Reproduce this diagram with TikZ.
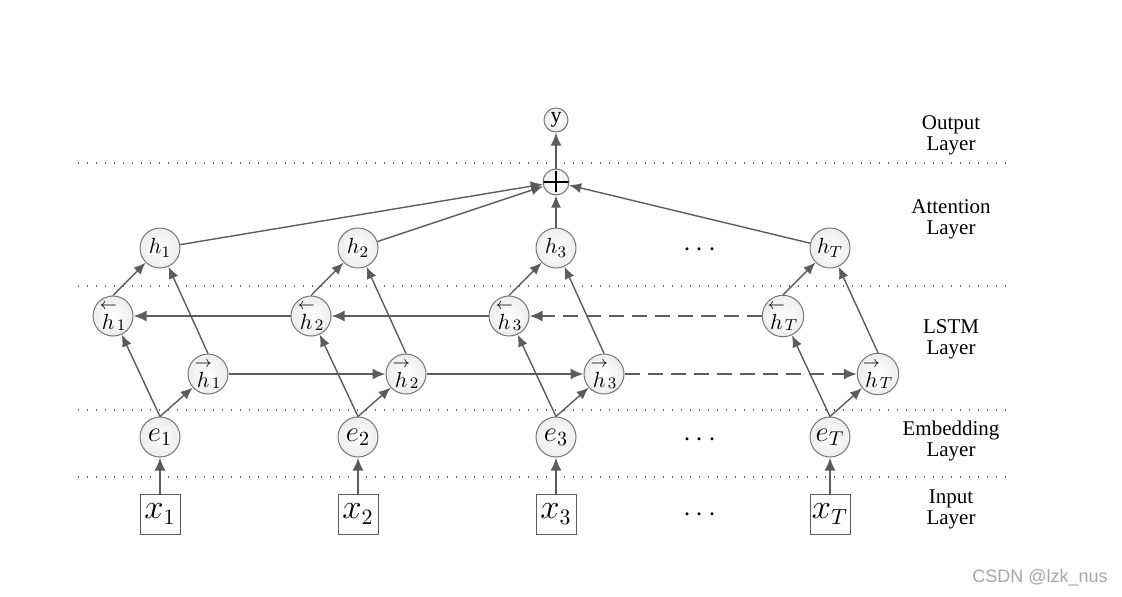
\documentclass[tikz,border=0pt]{standalone}
\usepackage{fontspec}
\setmainfont{Liberation Serif}
\newfontfamily\marksans{Liberation Sans}
\usetikzlibrary{arrows.meta}

\definecolor{linegray}{HTML}{5C5C5C}
\definecolor{rimgray}{HTML}{767676}

\tikzset{
    unit/.style={circle, draw=rimgray, line width=0.5pt, inner color=white, outer color=gray!14,
        minimum size=20pt, inner sep=0pt, font=\fontsize{11}{12}\selectfont},
    embunit/.style={unit, font=\fontsize{14}{15}\selectfont},
    inbox/.style={draw=linegray, line width=0.5pt, fill=white, minimum size=20pt, inner sep=0pt,
        font=\fontsize{16}{17}\selectfont},
    sumnode/.style={circle, draw=rimgray, line width=0.5pt, inner color=white, outer color=gray!14,
        minimum size=13pt, inner sep=0pt,
        path picture={\draw[black, line width=0.6pt]
            ([yshift=-1pt]path picture bounding box.north) -- ([yshift=1.5pt]path picture bounding box.south)
            (path picture bounding box.west) -- (path picture bounding box.east);}},
    link/.style={draw=linegray, line width=0.7pt, -{Latex[length=6pt,width=5pt]}},
    flow/.style={draw=linegray, line width=1pt, -{Latex[length=6.5pt,width=5.5pt]}},
    flowdash/.style={flow, dash pattern=on 7.5pt off 4pt},
    sepline/.style={draw=gray!80!black, line width=0.7pt, dash pattern=on 0.7pt off 3.8pt},
    layertext/.style={align=center, font=\fontsize{10.5}{10.5}\selectfont},
    dotstext/.style={font=\fontsize{14}{15}\selectfont},
    wmtext/.style={text=gray!70, font=\marksans\fontsize{9}{10}\selectfont}
}

\begin{document}
\begin{tikzpicture}[x=0.5pt, y=-0.5pt]
    \useasboundingbox (0,0) rectangle (1122,596);

    % Layer separators (dotted)
    \foreach \ly in {163,286,410,477} {
        \draw[sepline] (78,\ly) -- (1012,\ly);
    }

    % Columns of units
    \foreach \i/\cx in {1/160,2/358,3/556,T/830} {
        \node[inbox] (x\i) at (\cx,514) {$x_{\i}$};
        \node[embunit] (e\i) at (\cx,437) {$e_{\i}$};
        \node[unit] (fh\i) at (\cx+48,374) {${\stackrel{\rightarrow}{h}}_{\i}$};
        \node[unit] (bh\i) at (\cx-47,316) {${\stackrel{\leftarrow}{h}}_{\i}$};
        \node[unit] (h\i) at (\cx,248) {$h_{\i}$};
    }

    % Attention and output
    \node[sumnode] (sum) at (556,182) {};
    \node[unit, minimum size=12pt] (y) at (556,120) {y};

    % Dots between columns
    \node[dotstext] (dotsh) at (700,250) {$\cdots$};
    \node[dotstext] (dotse) at (700,440) {$\cdots$};
    \node[dotstext] (dotsx) at (700,515) {$\cdots$};

    % Layer names
    \node[layertext] (lout) at (951,135) {Output\\Layer};
    \node[layertext] (latt) at (951,219) {Attention\\Layer};
    \node[layertext] (llstm) at (951,339) {LSTM\\Layer};
    \node[layertext] (lemb) at (951,441) {Embedding\\Layer};
    \node[layertext] (lin) at (951,509) {Input\\Layer};

    % Connections inside each column
    \foreach \i in {1,2,3,T} {
        \draw[flow] (x\i) -- (e\i);
        \draw[link] (e\i.north) -- (bh\i);
        \draw[link] (e\i.north) -- (fh\i);
        \draw[link] (bh\i.north) -- (h\i);
        \draw[link] (fh\i.north) -- (h\i);
        \draw[link] (h\i) -- (sum);
    }

    % Recurrent connections
    \draw[flow] (fh1) -- (fh2);
    \draw[flow] (fh2) -- (fh3);
    \draw[flowdash] (fh3) -- (fhT);
    \draw[flow] (bh2) -- (bh1);
    \draw[flow] (bh3) -- (bh2);
    \draw[flowdash] (bhT) -- (bh3);

    \draw[flow] (sum) -- (y);

    \node[wmtext] (wm) at (1040,578) {CSDN @lzk\_nus};
\end{tikzpicture}
\end{document}
